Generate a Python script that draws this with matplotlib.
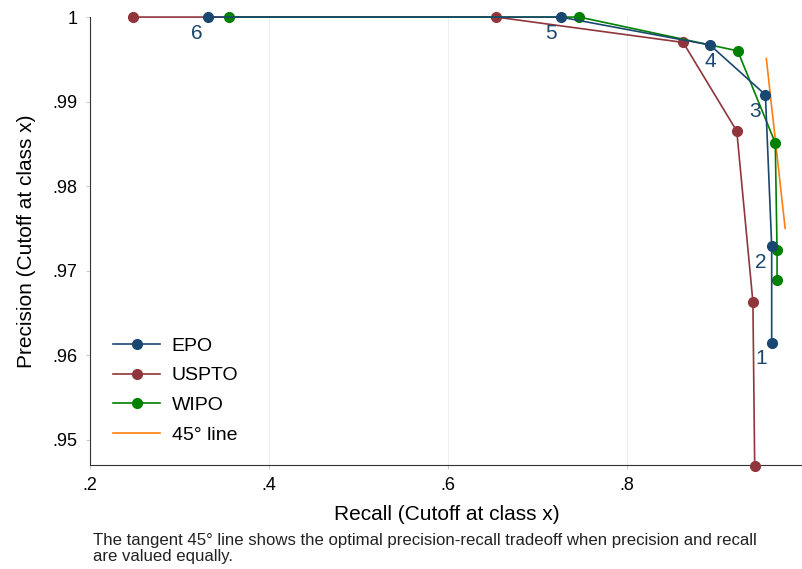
import matplotlib.pyplot as plt

plt.rcParams['font.family'] = ['Liberation Sans', 'DejaVu Sans']

# recall / precision per cutoff class (6 -> 1)
epo_recall = [0.332, 0.726, 0.893, 0.955, 0.962, 0.962]
epo_precision = [1.0, 1.0, 0.9967, 0.9908, 0.9729, 0.9614]
uspto_recall = [0.248, 0.654, 0.863, 0.923, 0.941, 0.943]
uspto_precision = [1.0, 1.0, 0.997, 0.9865, 0.9663, 0.9469]
wipo_recall = [0.355, 0.747, 0.924, 0.966, 0.968, 0.968]
wipo_precision = [1.0, 1.0, 0.996, 0.9851, 0.9724, 0.9689]
class_labels = ['6', '5', '4', '3', '2', '1']
line45_x = [0.956, 0.977]
line45_y = [0.9951, 0.975]

xticks = [0.2, 0.4, 0.6, 0.8]
xtick_labels = ['.2', '.4', '.6', '.8']
yticks = [0.95, 0.96, 0.97, 0.98, 0.99, 1.0]
ytick_labels = ['.95', '.96', '.97', '.98', '.99', '1']

navy = '#1a476f'
maroon = '#90353b'
green = '#008000'
orange = '#ff7f0e'

fig = plt.figure(figsize=(8.03, 5.69), dpi=100)
ax = fig.add_axes([0.112, 0.183, 0.888, 0.787])

style = dict(marker='o', markersize=7, linewidth=1.2, clip_on=False)
ax.plot(epo_recall, epo_precision, color=navy, label='EPO', zorder=4, **style)
ax.plot(uspto_recall, uspto_precision, color=maroon, label='USPTO', zorder=3, **style)
ax.plot(wipo_recall, wipo_precision, color=green, label='WIPO', zorder=3, **style)
ax.plot(line45_x, line45_y, color=orange, linewidth=1.2, label='45° line', zorder=2)

# class labels below-left of the EPO points
offsets = [(-11, -16), (-10, -16), (0, -17), (-10, -17), (-11, -16), (-10, -15)]
for x, y, lab, off in zip(epo_recall, epo_precision, class_labels, offsets):
    ax.annotate(lab, (x, y), xytext=off, textcoords='offset pixels',
                ha='center', va='center', fontsize=15, color=navy, zorder=5)

ax.set_xlim(0.2, 0.997)
ax.set_ylim(0.947, 1.0)
ax.set_xticks(xticks)
ax.set_xticklabels(xtick_labels)
ax.set_yticks(yticks)
ax.set_yticklabels(ytick_labels)
ax.tick_params(labelsize=13, length=3, color='#cccccc', pad=6)
ax.xaxis.grid(True, color='#eeeeee', linewidth=0.8)
ax.set_axisbelow(True)

ax.spines['top'].set_visible(False)
ax.spines['right'].set_visible(False)
ax.spines['left'].set_color('#333333')
ax.spines['bottom'].set_color('#333333')

ax.set_xlabel('Recall (Cutoff at class x)', fontsize=15, labelpad=8)
ax.set_ylabel('Precision (Cutoff at class x)', fontsize=15, labelpad=12)

ax.legend(loc='lower left', bbox_to_anchor=(0.0, -0.005), frameon=False, fontsize=14,
          handlelength=2.4, handletextpad=0.6, labelspacing=0.62, borderaxespad=0.8)

fig.text(93 / 803, 1 - 533 / 569,
         'The tangent 45° line shows the optimal precision-recall tradeoff when precision and recall\n'
         'are valued equally.',
         fontsize=12.1, va='top', ha='left', linespacing=1.1, color='#222222')

fig.savefig('out.png', dpi=100)
